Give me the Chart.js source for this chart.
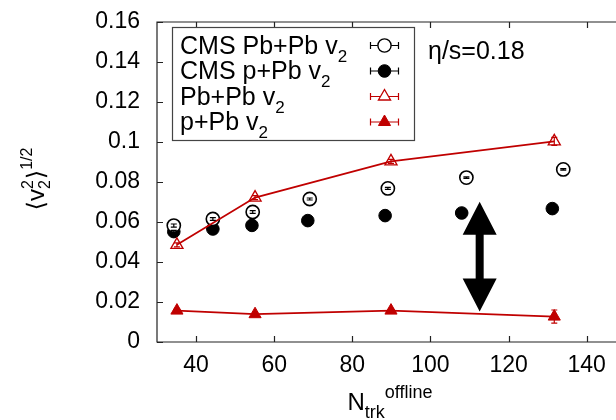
<!DOCTYPE html>
<html>
<head>
<meta charset="utf-8">
<script src="https://cdn.jsdelivr.net/npm/chart.js@4.4.1/dist/chart.umd.min.js"></script>
<style>
  html, body { margin: 0; padding: 0; background: #fff; overflow: hidden; }
  #wrap { width: 616px; height: 420px; }
</style>
</head>
<body>
<div id="wrap"><canvas id="c" width="616" height="420"></canvas></div>
<script>
// Axis ticks
const xTicks = [40, 60, 80, 100, 120, 140];
const yTicks = [0, 0.02, 0.04, 0.06, 0.08, 0.10, 0.12, 0.14, 0.16];

// CMS measurements
const cmsPbPbN   = [34.3, 44.3, 54.5, 69.1, 89.1, 109.2, 134.0];
const cmsPbPbV   = [0.0582, 0.0615, 0.0650, 0.0715, 0.0768, 0.0822, 0.0863];
const cmsPbPbErr = [0.0008, 0.0007, 0.0007, 0.0005, 0.0005, 0.0004, 0.0004];
const cmsPPbN    = [34.3, 44.3, 54.3, 68.6, 88.4, 108.0, 131.2];
const cmsPPbV    = [0.0552, 0.0565, 0.0583, 0.0607, 0.0632, 0.0645, 0.0667];
const cmsPPbErr  = [0.0006, 0.0005, 0.0005, 0.0005, 0.0005, 0.0005, 0.0005];

// Hydrodynamic calculation, eta/s = 0.18
const modelN      = [35.1, 55.1, 89.9, 131.7];
const modelPbPbV  = [0.0486, 0.0722, 0.0903, 0.1003];
const modelPbPbErr= [0.0010, 0.0010, 0.0010, 0.0020];
const modelPPbV   = [0.0157, 0.0139, 0.0157, 0.0127];
const modelPPbErr = [0.0010, 0.0010, 0.0010, 0.0033];

// Double arrow marking the p+Pb gap (data units)
const arrowN = 112.6;
const arrowV = [0.0152, 0.0701];

const legendLabels = ['CMS Pb+Pb v', 'CMS p+Pb v', 'Pb+Pb v', 'p+Pb v'];

const FONT = '"Liberation Sans", Arial, Helvetica, "DejaVu Sans", sans-serif';
const BRACKET_FONT = '"DejaVu Sans", "Liberation Sans", sans-serif';
const RED = '#c00000';

const pts = (xs, ys) => xs.map((x, i) => ({ x, y: ys[i] }));

const datasets = [
  { label: 'Pb+Pb v2', data: pts(modelN, modelPbPbV), errs: modelPbPbErr,
    borderColor: RED, borderWidth: 1.8, showLine: true, tension: 0,
    pointStyle: 'triangle', pointRadius: 7, pointBorderWidth: 1.3,
    pointBorderColor: RED, pointBackgroundColor: 'rgba(255,255,255,0)',
    errColor: RED },
  { label: 'p+Pb v2', data: pts(modelN, modelPPbV), errs: modelPPbErr,
    borderColor: RED, borderWidth: 1.8, showLine: true, tension: 0,
    pointStyle: 'triangle', pointRadius: 7, pointBorderWidth: 1,
    pointBorderColor: RED, pointBackgroundColor: RED,
    errColor: RED },
  { label: 'CMS Pb+Pb v2', data: pts(cmsPbPbN, cmsPbPbV), errs: cmsPbPbErr,
    showLine: false, pointStyle: 'circle', pointRadius: 6.6, pointBorderWidth: 1.6,
    pointBorderColor: '#000', pointBackgroundColor: '#fff',
    errColor: '#000' },
  { label: 'CMS p+Pb v2', data: pts(cmsPPbN, cmsPPbV), errs: cmsPPbErr,
    showLine: false, pointStyle: 'circle', pointRadius: 6.3, pointBorderWidth: 1,
    pointBorderColor: '#000', pointBackgroundColor: '#000',
    errColor: '#000' }
];

function drawMarker(ctx, style, x, y, r, fill, stroke, lw) {
  ctx.save();
  ctx.beginPath();
  if (style === 'circle') {
    ctx.arc(x, y, r, 0, Math.PI * 2);
  } else {
    for (let k = 0; k < 3; k++) {
      const a = k * 2 * Math.PI / 3;
      const px = x + Math.sin(a) * r, py = y - Math.cos(a) * r;
      k ? ctx.lineTo(px, py) : ctx.moveTo(px, py);
    }
    ctx.closePath();
  }
  ctx.fillStyle = fill; ctx.fill();
  ctx.lineWidth = lw; ctx.strokeStyle = stroke; ctx.stroke();
  ctx.restore();
}

// Draws a run of text pieces: {t, size, dy}
function drawRich(ctx, parts, x, y) {
  let cx = x;
  parts.forEach(p => {
    ctx.font = p.size + 'px ' + FONT;
    ctx.fillText(p.t, cx, y + (p.dy || 0));
    cx += ctx.measureText(p.t).width;
  });
  return cx;
}

// Remove the automatic label overhang so the plot box spans the full width
function noPad(s) {
  s.paddingTop = 0; s.paddingBottom = 0; s.paddingLeft = 0; s.paddingRight = 0;
}

const decorPlugin = {
  id: 'decor',
  afterDatasetsDraw(chart) {
    const { ctx, scales: { x, y } } = chart;
    // error bars
    chart.data.datasets.forEach(ds => {
      ctx.save();
      ctx.strokeStyle = ds.errColor; ctx.lineWidth = 1.2;
      ds.data.forEach((p, i) => {
        const px = x.getPixelForValue(p.x);
        const y1 = y.getPixelForValue(p.y - ds.errs[i]);
        const y2 = y.getPixelForValue(p.y + ds.errs[i]);
        ctx.beginPath();
        ctx.moveTo(px, y1); ctx.lineTo(px, y2);
        ctx.moveTo(px - 3, y1); ctx.lineTo(px + 3, y1);
        ctx.moveTo(px - 3, y2); ctx.lineTo(px + 3, y2);
        ctx.stroke();
      });
      ctx.restore();
    });

    // double arrow
    const ax = x.getPixelForValue(arrowN);
    const ayB = y.getPixelForValue(arrowV[0]);
    const ayT = y.getPixelForValue(arrowV[1]);
    const head = 33, hw = 17, sw = 4;
    ctx.save();
    ctx.fillStyle = '#000';
    ctx.beginPath();
    ctx.moveTo(ax, ayT);
    ctx.lineTo(ax + hw, ayT + head);
    ctx.lineTo(ax + sw, ayT + head);
    ctx.lineTo(ax + sw, ayB - head);
    ctx.lineTo(ax + hw, ayB - head);
    ctx.lineTo(ax, ayB);
    ctx.lineTo(ax - hw, ayB - head);
    ctx.lineTo(ax - sw, ayB - head);
    ctx.lineTo(ax - sw, ayT + head);
    ctx.lineTo(ax - hw, ayT + head);
    ctx.closePath();
    ctx.fill();
    ctx.restore();
  },
  afterDraw(chart) {
    const { ctx, chartArea: ca, scales: { x, y } } = chart;
    ctx.save();
    // frame and inward ticks
    ctx.strokeStyle = '#222'; ctx.lineWidth = 1.2;
    ctx.beginPath();
    ctx.moveTo(ca.right + 2, ca.top); ctx.lineTo(ca.left, ca.top);
    ctx.lineTo(ca.left, ca.bottom); ctx.lineTo(ca.right + 2, ca.bottom);
    xTicks.forEach(v => {
      const px = Math.round(x.getPixelForValue(v)) + 0.5;
      ctx.moveTo(px, ca.bottom); ctx.lineTo(px, ca.bottom - 6);
      ctx.moveTo(px, ca.top); ctx.lineTo(px, ca.top + 6);
    });
    yTicks.forEach(v => {
      const py = Math.round(y.getPixelForValue(v)) + 0.5;
      ctx.moveTo(ca.left, py); ctx.lineTo(ca.left + 6, py);
    });
    ctx.stroke();

    // legend box
    const lx = 172, ly = 27, lw = 242, lh = 113;
    ctx.fillStyle = '#fff';
    ctx.fillRect(lx, ly, lw, lh);
    ctx.strokeStyle = '#444'; ctx.lineWidth = 1.2;
    ctx.strokeRect(lx + 0.5, ly + 0.5, lw, lh);
    const rows = [45.5, 71, 96.5, 122];
    const styles = [
      { s: 'circle', fill: '#fff', stroke: '#000', r: 6.6, lw: 1.4, c: '#000' },
      { s: 'circle', fill: '#000', stroke: '#000', r: 6.3, lw: 1, c: '#000' },
      { s: 'triangle', fill: '#fff', stroke: RED, r: 7, lw: 1.3, c: RED },
      { s: 'triangle', fill: RED, stroke: RED, r: 7, lw: 1, c: RED }
    ];
    ctx.textBaseline = 'alphabetic'; ctx.textAlign = 'left';
    rows.forEach((ry, i) => {
      ctx.fillStyle = '#000';
      drawRich(ctx, [{ t: legendLabels[i], size: 25 }, { t: '2', size: 17, dy: 8 }], 180, ry + 8);
      const st = styles[i];
      ctx.strokeStyle = st.c; ctx.lineWidth = 1.2;
      ctx.beginPath();
      ctx.moveTo(370, ry); ctx.lineTo(399, ry);
      ctx.moveTo(370.5, ry - 3.5); ctx.lineTo(370.5, ry + 3.5);
      ctx.moveTo(398.5, ry - 3.5); ctx.lineTo(398.5, ry + 3.5);
      ctx.stroke();
      drawMarker(ctx, st.s, 384.5, ry, st.r, st.fill, st.stroke, st.lw);
    });

    // parameter annotation
    ctx.fillStyle = '#000';
    ctx.font = '25px ' + FONT;
    ctx.fillText('\u03B7/s=0.18', 428, 59);

    // x axis title
    ctx.font = '24px ' + FONT;
    const wN = ctx.measureText('N').width;
    ctx.font = '18px ' + FONT;
    const wTrk = ctx.measureText('trk').width;
    const wOff = ctx.measureText('offline').width;
    const totalX = wN + wTrk + wOff;
    const cx = 390 - totalX / 2;
    const bx = 409.5;
    ctx.font = '24px ' + FONT; ctx.fillText('N', cx, bx);
    ctx.font = '18px ' + FONT;
    ctx.fillText('trk', cx + wN, bx + 8);
    ctx.fillText('offline', cx + wN + wTrk, bx - 12);

    // y axis title, rotated
    ctx.save();
    ctx.translate(37, 179);
    ctx.rotate(-Math.PI / 2);
    ctx.font = '24px ' + BRACKET_FONT;
    const wL = ctx.measureText('\u27E8').width;
    ctx.font = '24px ' + FONT;
    const wV = ctx.measureText('v').width;
    ctx.font = '16px ' + FONT;
    const w2 = ctx.measureText('2').width;
    const wHalf = ctx.measureText('1/2').width;
    const totalY = wL * 2 + wV + w2 + 1 + wHalf;
    let tx = -totalY / 2;
    const by = 7;
    ctx.font = '24px ' + BRACKET_FONT; ctx.fillText('\u27E8', tx, by); tx += wL;
    ctx.font = '24px ' + FONT; ctx.fillText('v', tx, by); tx += wV;
    ctx.font = '16px ' + FONT;
    ctx.fillText('2', tx, by + 6);
    ctx.fillText('2', tx, by - 11);
    tx += w2 + 1;
    ctx.font = '24px ' + BRACKET_FONT; ctx.fillText('\u27E9', tx, by); tx += wL;
    ctx.font = '16px ' + FONT; ctx.fillText('1/2', tx, by - 12);
    ctx.restore();

    ctx.restore();
  }
};

new Chart(document.getElementById('c'), {
  type: 'scatter',
  data: { datasets },
  options: {
    responsive: false,
    animation: false,
    devicePixelRatio: 1,
    layout: { autoPadding: false, padding: { top: 22, right: 0, left: 0, bottom: 0 } },
    plugins: { legend: { display: false }, tooltip: { enabled: false } },
    scales: {
      x: {
        type: 'linear', min: 30, max: 147.5,
        afterBuildTicks: s => { s.ticks = xTicks.map(v => ({ value: v })); },
        afterFit: s => { s.height = 78; noPad(s); },
        grid: { display: false, drawTicks: false },
        border: { display: false },
        ticks: { color: '#000', font: { family: FONT, size: 23 }, padding: 10, maxRotation: 0,
                 callback: v => String(v) }
      },
      y: {
        type: 'linear', min: 0, max: 0.16,
        afterBuildTicks: s => { s.ticks = yTicks.map(v => ({ value: v })); },
        afterFit: s => { s.width = 157; noPad(s); },
        grid: { display: false, drawTicks: false },
        border: { display: false },
        ticks: { color: '#000', font: { family: FONT, size: 23 }, padding: 17,
                 callback: v => String(parseFloat(Number(v).toFixed(2))) }
      }
    }
  },
  plugins: [decorPlugin]
});
</script>
</body>
</html>
